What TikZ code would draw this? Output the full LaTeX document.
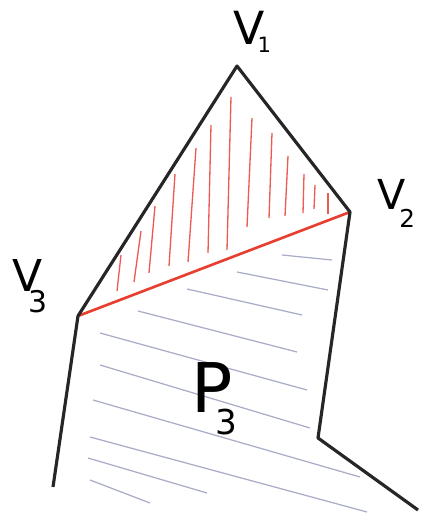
\documentclass[tikz,border=0pt]{standalone}
\usepackage{fontspec}
\setmainfont{DejaVu Sans}
\definecolor{ink}{RGB}{38,38,38}
\definecolor{pen}{RGB}{232,62,48}
\definecolor{pencil}{RGB}{168,172,198}
\begin{document}
\begin{tikzpicture}[x=0.02cm,y=-0.02cm]
\useasboundingbox (0,0) rectangle (423,516);
\coordinate (v1) at (237,66);
\coordinate (v2) at (350,212);
\coordinate (v3) at (78,316);
\coordinate (l) at (53,487);
\coordinate (r) at (318,438);
\coordinate (e) at (418,510);
\foreach \xa/\ya/\xb/\yb in {121/255/117/291, 141/231/134/282, 155/206/149/273,
  175/174/169/266, 196/148/188/262, 211/125/208/253, 231/97/227/250,
  252/118/247/227, 272/133/269/218, 288/156/285/216, 304/174/303/213,
  315/185/314/209, 328/193/328/214}
  \draw[pen!85, line width=0.75pt] (\xa,\ya) -- (\xb,\yb);
\foreach \xa/\ya/\xb/\yb in {282/255/332/260, 237/272/328/290, 187/289/302/315,
  138/311/297/352, 100/333/307/390, 100/365/310/428, 93/400/360/477,
  90/437/367/512, 88/458/207/493, 90/480/150/503}
  \draw[pencil, line width=0.7pt] (\xa,\ya) -- (\xb,\yb);
\draw[pen, line width=1.5pt] (v3) -- (v2);
\draw[ink, line width=1.8pt, line join=round] (l) -- (v3) -- (v1) -- (v2) -- (r) -- (e);
\node[anchor=base west, inner sep=0] (lv1) at (233,45)
  {\fontsize{26}{26}\selectfont V\kern-4pt\raisebox{-4.5pt}{\fontsize{12}{12}\selectfont 1}};
\node[anchor=base west, inner sep=0] (lv2) at (377,210)
  {\fontsize{23.5}{24}\selectfont V\kern-3.5pt\raisebox{-10pt}{\fontsize{14}{14}\selectfont 2}};
\node[anchor=base west, inner sep=0] (lv3) at (12,292)
  {\fontsize{25}{25}\selectfont V\kern-8pt\raisebox{-11.4pt}{\fontsize{17}{17}\selectfont 3}};
\node[anchor=base west, inner sep=0] (lp3) at (191,412)
  {\fontsize{39}{39}\selectfont P\kern-10pt\raisebox{-13pt}{\fontsize{19.5}{20}\selectfont 3}};
\end{tikzpicture}
\end{document}
